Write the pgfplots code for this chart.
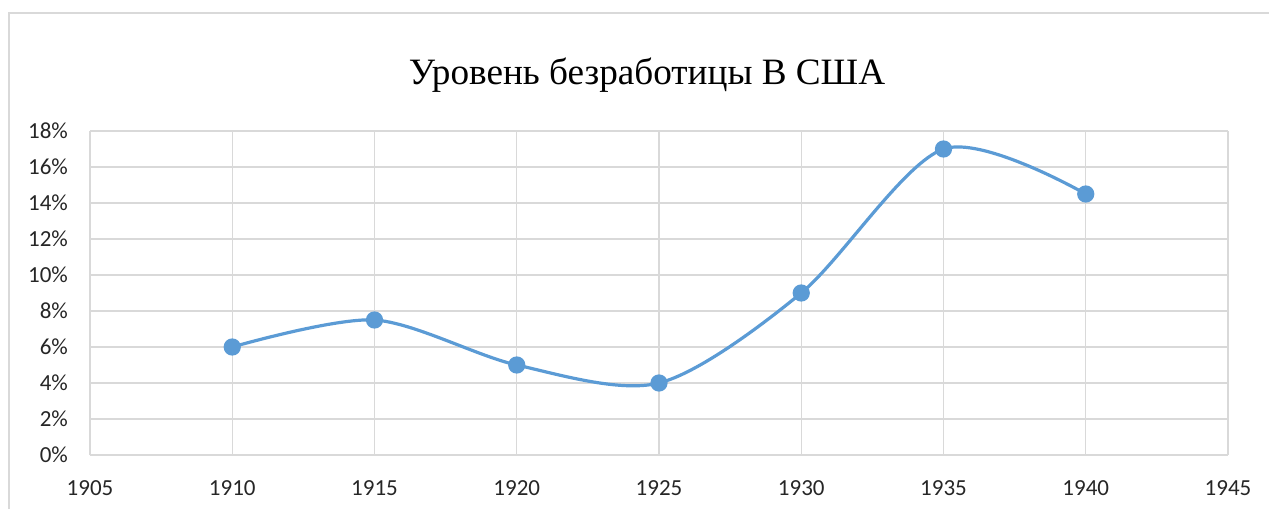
\documentclass[border=0pt]{standalone}
\usepackage{pgfplots}
\pgfplotsset{compat=1.18}
\usepackage{fontspec}
\setmainfont{Carlito}
\newfontfamily\titlefont{Liberation Serif}
\definecolor{lineblue}{HTML}{5B9BD5}
\definecolor{gridgray}{HTML}{D9D9D9}
\begin{document}
\begin{tikzpicture}
\path[use as bounding box] (0pt,0pt) rectangle (634.5pt,254.5pt);
\draw[gridgray,line width=0.75pt] (4.5pt,0pt) -- (4.5pt,248pt) -- (634.5pt,248pt);
\node[font=\titlefont\fontsize{18.6}{22}\selectfont,anchor=base] at (323.5pt,212pt) {Уровень безработицы В США};
\begin{axis}[
  at={(45pt,27pt)}, anchor=south west,
  width=569pt, height=162pt, scale only axis,
  xmin=1905, xmax=1945, ymin=0, ymax=18,
  xtick={1905,1910,...,1945},
  ytick={0,2,...,18},
  yticklabel={\pgfmathprintnumber{\tick}\%},
  /pgf/number format/assume math mode=true,
  /pgf/number format/1000 sep={},
  ticklabel style={font=\fontsize{11.5}{13}\selectfont, text=black!85},
  xticklabel style={yshift=-9.5pt},
  yticklabel style={xshift=-7.5pt},
  major tick length=0pt,
  grid=major,
  major grid style={gridgray, line width=0.6pt},
  axis line style={draw=none},
  clip=false,
]
\addplot[lineblue, line width=1.6pt, smooth, tension=0.5,
  mark=*, mark size=3.5pt, mark options={fill=lineblue, draw=lineblue}]
  coordinates {(1910,6) (1915,7.5) (1920,5) (1925,4) (1930,9) (1935,17) (1940,14.5)};
\end{axis}
\end{tikzpicture}
\end{document}
